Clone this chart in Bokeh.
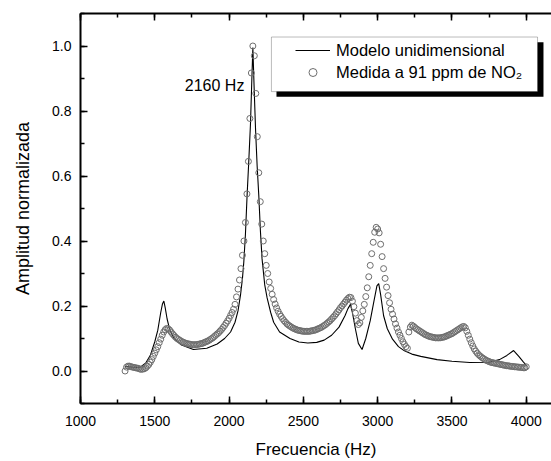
from bokeh.plotting import figure
from bokeh.models import (Range1d, LinearAxis, SingleIntervalTicker, PrintfTickFormatter,
                          BoxAnnotation, Label, Legend, LegendItem, CustomLabelingPolicy)
from bokeh.embed import file_html
from bokeh.resources import INLINE

# ---- data -------------------------------------------------------------
line_freq = [1300, 1350, 1400, 1440, 1470, 1500, 1520, 1540, 1552, 1561,
             1570, 1583, 1600, 1630, 1680, 1760, 1850, 1920, 1970, 2010,
             2040, 2060, 2077, 2090, 2099, 2110, 2121, 2132, 2144, 2152,
             2160, 2168, 2178, 2189, 2200, 2211, 2222, 2240, 2256, 2280,
             2300, 2340, 2410, 2470, 2530, 2590, 2640, 2690, 2740, 2780,
             2800, 2817, 2830, 2850, 2870, 2895, 2920, 2950, 2975, 2995,
             3007, 3020, 3040, 3065, 3100, 3140, 3180, 3230, 3290, 3400,
             3500, 3620, 3750, 3820, 3870, 3915, 3950, 3980, 4005]
line_amp = [0.014, 0.012, 0.011, 0.025, 0.048, 0.09, 0.125, 0.18, 0.207, 0.215,
            0.195, 0.16, 0.128, 0.1, 0.08, 0.066, 0.07, 0.083, 0.1, 0.12,
            0.15, 0.185, 0.234, 0.285, 0.335, 0.42, 0.538, 0.64, 0.76, 0.88,
            0.995, 0.88, 0.745, 0.63, 0.54, 0.43, 0.345, 0.265, 0.225, 0.18,
            0.15, 0.12, 0.1, 0.089, 0.086, 0.088, 0.095, 0.11, 0.135, 0.17,
            0.192, 0.205, 0.18, 0.13, 0.085, 0.066, 0.1, 0.155, 0.215, 0.262,
            0.269, 0.235, 0.17, 0.13, 0.098, 0.075, 0.062, 0.052, 0.045, 0.035,
            0.03, 0.026, 0.027, 0.035, 0.048, 0.063, 0.045, 0.028, 0.015]

meas_freq = list(range(1300, 4001, 10))
meas_amp = [
    0.000, 0.012, 0.015, 0.015, 0.013, 0.012, 0.011, 0.010, 0.009, 0.008,
    0.006, 0.005, 0.006, 0.007, 0.010, 0.015, 0.020, 0.027, 0.035, 0.045,
    0.055, 0.065, 0.075, 0.087, 0.098, 0.110, 0.120, 0.127, 0.131, 0.130,
    0.126, 0.120, 0.114, 0.109, 0.104, 0.100, 0.097, 0.094, 0.091, 0.089,
    0.087, 0.085, 0.084, 0.083, 0.082, 0.081, 0.081, 0.081, 0.081, 0.082,
    0.083, 0.084, 0.085, 0.087, 0.089, 0.091, 0.093, 0.096, 0.099, 0.102,
    0.106, 0.110, 0.114, 0.118, 0.123, 0.128, 0.134, 0.140, 0.147, 0.154,
    0.162, 0.171, 0.180, 0.190, 0.205, 0.228, 0.252, 0.280, 0.315, 0.356,
    0.400, 0.457, 0.545, 0.645, 0.777, 0.917, 1.000, 0.970, 0.854, 0.721,
    0.610, 0.521, 0.452, 0.400, 0.361, 0.325, 0.300, 0.274, 0.254, 0.236,
    0.220, 0.206, 0.194, 0.184, 0.175, 0.168, 0.161, 0.155, 0.150, 0.145,
    0.141, 0.138, 0.135, 0.132, 0.130, 0.128, 0.126, 0.125, 0.124, 0.123,
    0.122, 0.122, 0.122, 0.122, 0.122, 0.123, 0.124, 0.125, 0.126, 0.128,
    0.130, 0.132, 0.134, 0.137, 0.140, 0.143, 0.147, 0.151, 0.155, 0.160,
    0.165, 0.170, 0.176, 0.182, 0.188, 0.195, 0.200, 0.206, 0.212, 0.218,
    0.223, 0.227, 0.226, 0.215, 0.198, 0.178, 0.155, 0.143, 0.148, 0.165,
    0.185, 0.205, 0.229, 0.256, 0.290, 0.325, 0.361, 0.396, 0.427, 0.442,
    0.437, 0.425, 0.390, 0.352, 0.315, 0.285, 0.258, 0.232, 0.210, 0.190,
    0.175, 0.160, 0.145, 0.132, 0.120, 0.110, 0.100, 0.090, 0.082, 0.075,
    0.070, 0.120, 0.135, 0.141, 0.138, 0.134, 0.130, 0.127, 0.124, 0.121,
    0.118, 0.115, 0.112, 0.110, 0.108, 0.106, 0.105, 0.104, 0.103, 0.102,
    0.102, 0.102, 0.102, 0.103, 0.104, 0.105, 0.107, 0.109, 0.111, 0.113,
    0.115, 0.118, 0.121, 0.124, 0.127, 0.130, 0.133, 0.136, 0.137, 0.133,
    0.122, 0.110, 0.098, 0.087, 0.077, 0.068, 0.061, 0.055, 0.050, 0.046,
    0.042, 0.039, 0.036, 0.033, 0.031, 0.029, 0.027, 0.026, 0.025, 0.024,
    0.023, 0.022, 0.021, 0.020, 0.019, 0.018, 0.017, 0.016, 0.016, 0.015,
    0.014, 0.014, 0.013, 0.013, 0.012, 0.012, 0.011, 0.011, 0.010, 0.010,
    0.013]

x_label = "Frecuencia (Hz)"
y_label = "Amplitud normalizada"
series_names = ["Modelo unidimensional", "Medida a 91 ppm de NO\u2082"]
peak_label = "2160 Hz"

FONT = "Liberation Sans"

# ---- figure -------------------------------------------------------------
p = figure(width=551, height=461,
           x_range=Range1d(1000, 4170), y_range=Range1d(-0.1, 1.1),
           output_backend="svg", toolbar_location=None,
           min_border_left=80, min_border_right=0, min_border_top=13,
           min_border_bottom=55)
p.outline_line_color = None
p.grid.visible = False
p.background_fill_color = "white"
p.border_fill_color = "white"


def style_axis(ax):
    ax.axis_line_width = 2
    ax.axis_line_color = "black"
    ax.major_tick_in = 7
    ax.major_tick_out = 0
    ax.minor_tick_in = 4
    ax.minor_tick_out = 0
    ax.major_tick_line_width = 1.5
    ax.minor_tick_line_width = 1.5
    ax.major_label_text_font = FONT
    ax.major_label_text_font_size = "14px"
    ax.major_label_text_color = "black"
    ax.axis_label_text_font = FONT
    ax.axis_label_text_font_style = "normal"
    ax.axis_label_text_color = "black"


xa = p.xaxis[0]
xa.ticker = SingleIntervalTicker(interval=500, num_minor_ticks=2)
style_axis(xa)
xa.axis_label = x_label
xa.axis_label_text_font_size = "17px"
xa.major_label_standoff = 12
xa.axis_label_standoff = 11

ya = p.yaxis[0]
ya.ticker = SingleIntervalTicker(interval=0.2, num_minor_ticks=2)
ya.formatter = PrintfTickFormatter(format="%.1f")
style_axis(ya)
ya.axis_label = y_label
ya.axis_label_text_font_size = "18px"
ya.major_label_standoff = 9
ya.axis_label_standoff = 16

# top frame edge: ticks only, no labels drawn
no_labels = CustomLabelingPolicy(code="""
    for (let i = 0; i < indices.size; i++) { indices.unset(i) }
    return indices
""")
top = LinearAxis(ticker=SingleIntervalTicker(interval=500, num_minor_ticks=2))
style_axis(top)
top.major_label_policy = no_labels
top.major_label_standoff = 0
p.add_layout(top, "above")

# legend frame + shadow (behind everything)
p.add_layout(BoxAnnotation(left=2319, right=4116, bottom=0.8435, top=1.0115,
                           fill_color="black", fill_alpha=1.0, line_color=None,
                           level="underlay"))
p.add_layout(BoxAnnotation(left=2285, right=4076, bottom=0.8597, top=1.0276,
                           fill_color="white", fill_alpha=1.0, line_color="#222222",
                           line_width=1, level="underlay"))

# data
r_line = p.line(line_freq, line_amp, line_color="black", line_width=1.1)
r_meas = p.scatter(meas_freq, meas_amp, marker="circle", size=6,
                   fill_color=None, line_color="#6e6e6e", line_width=1)

legend = Legend(items=[LegendItem(label=series_names[0], renderers=[r_line]),
                       LegendItem(label=series_names[1], renderers=[r_meas])],
                location=(215, 321), padding=0, spacing=2,
                glyph_width=35, glyph_height=20, label_height=20,
                label_standoff=6, label_text_font=FONT,
                label_text_font_size="16.5px", label_text_color="black",
                border_line_color=None, background_fill_alpha=0.0,
                margin=0)
p.add_layout(legend, "center")

p.add_layout(Label(x=1702, y=0.877, text=peak_label, text_font=FONT,
                   text_font_size="16px", text_baseline="middle",
                   text_align="left", text_color="black"))

open("out.html", "w").write(file_html(p, INLINE))
